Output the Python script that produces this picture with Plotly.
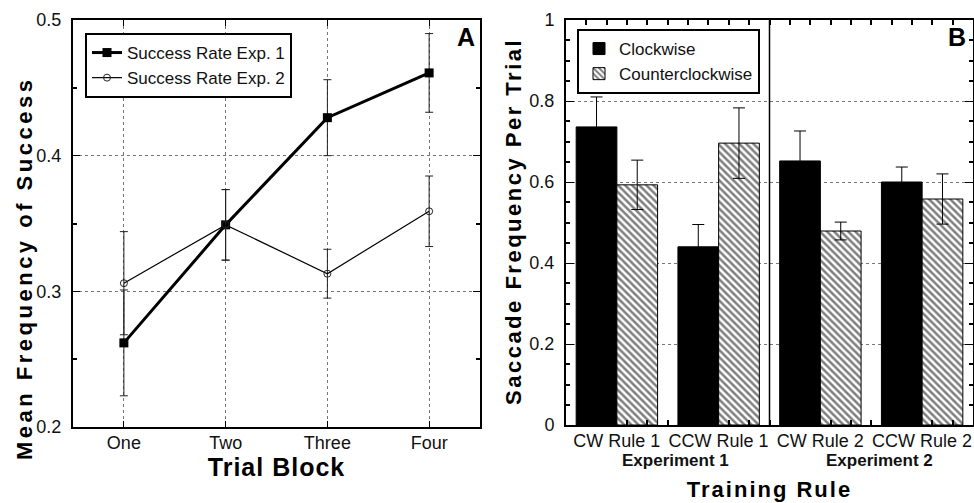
import plotly.graph_objects as go

# ---------------- Data ----------------
blocks = ["One", "Two", "Three", "Four"]
exp1_rate = [0.262, 0.349, 0.428, 0.461]
exp1_err = [0.039, 0.026, 0.028, 0.029]
exp2_rate = [0.306, 0.349, 0.313, 0.359]
exp2_err = [0.038, 0.026, 0.018, 0.026]

rules = ["CW Rule 1", "CCW Rule 1", "CW Rule 2", "CCW Rule 2"]
clockwise = [0.736, 0.440, 0.652, 0.600]
clockwise_err = [0.074, 0.055, 0.074, 0.037]
counterclockwise = [0.593, 0.696, 0.479, 0.558]
counterclockwise_err = [0.061, 0.087, 0.022, 0.062]
experiments = ["Experiment 1", "Experiment 2"]

FONT = "Liberation Sans, Arial, Helvetica, sans-serif"
W, H = 974, 503

def px_x(p):
    return p / W

def px_y(p):
    return 1 - p / H

xa = list(range(len(blocks)))
xb = list(range(len(rules)))
# minor tick positions along the rule axis (every 0.2, aligned on group boundaries)
xb_minor = [round(-0.3 + 0.2 * k, 2) for k in range(19)]

fig = go.Figure()

# Panel A
fig.add_trace(go.Scatter(
    x=xa, y=exp1_rate, mode="lines+markers", name="Success Rate Exp. 1",
    line=dict(color="black", width=3),
    marker=dict(symbol="square", size=9, color="black"),
    error_y=dict(type="data", array=exp1_err, color="#222", thickness=1, width=4),
    xaxis="x", yaxis="y", legend="legend"))
fig.add_trace(go.Scatter(
    x=xa, y=exp2_rate, mode="lines+markers", name="Success Rate Exp. 2",
    line=dict(color="black", width=1.2),
    marker=dict(symbol="circle-open", size=7, color="#222", line=dict(width=1)),
    error_y=dict(type="data", array=exp2_err, color="#222", thickness=1, width=4),
    xaxis="x", yaxis="y", legend="legend"))

# Panel B
fig.add_trace(go.Bar(
    x=xb, y=clockwise, name="Clockwise",
    marker=dict(color="black", line=dict(color="black", width=1)),
    error_y=dict(type="data", array=clockwise_err, color="black", thickness=1, width=6),
    xaxis="x2", yaxis="y2", legend="legend2"))
fig.add_trace(go.Bar(
    x=xb, y=counterclockwise, name="Counterclockwise",
    marker=dict(color="white", line=dict(color="black", width=1),
                pattern=dict(shape="\\", fgcolor="black", bgcolor="white", size=5, solidity=0.5)),
    error_y=dict(type="data", array=counterclockwise_err, color="black", thickness=1, width=6),
    xaxis="x2", yaxis="y2", legend="legend2"))

axis_common = dict(showline=True, linecolor="black", linewidth=2, mirror="allticks",
                   tickcolor="black", zeroline=False, automargin=False,
                   tickfont=dict(family=FONT, size=18, color="#111"))

minor_style = dict(ticks="inside", tickcolor="black", tickwidth=1.5, showgrid=False)

fig.update_layout(
    width=W, height=H,
    margin=dict(l=0, r=0, t=0, b=0),
    paper_bgcolor="white", plot_bgcolor="white",
    font=dict(family=FONT, color="black"),
    barmode="group", bargap=0.2, bargroupgap=0,
    xaxis=dict(domain=[px_x(73), px_x(480)], anchor="y", range=[-0.5, 3.5],
               tickmode="array", tickvals=xa, ticktext=blocks, ticks="inside", ticklen=6,
               showgrid=True, gridcolor="#777", griddash="dot", gridwidth=1,
               ticklabelstandoff=-2,
               title=dict(text="<b><span style='letter-spacing:1px'>Trial Block</span></b>",
                          font=dict(size=25, family=FONT), standoff=6),
               **axis_common),
    yaxis=dict(domain=[px_y(427), px_y(20)], anchor="x", range=[0.2, 0.5],
               tickmode="linear", tick0=0.2, dtick=0.1, tickformat=".1f", ticks="inside", ticklen=7,
               minor=dict(tickmode="linear", tick0=0.2, dtick=0.05, ticklen=4, **minor_style),
               showgrid=True, gridcolor="#777", griddash="dot", gridwidth=1,
               ticklabelstandoff=6,
               **axis_common),
    xaxis2=dict(domain=[px_x(566), px_x(973)], anchor="y2", range=[-0.5, 3.5],
                tickmode="array", tickvals=xb, ticktext=rules, ticks="inside", ticklen=0,
                ticklabelstandoff=-2,
                minor=dict(tickmode="array", tickvals=xb_minor, ticklen=5, **minor_style),
                showgrid=False,
                title=dict(text="<b><span style='letter-spacing:2px'>Training Rule</span></b>",
                           font=dict(size=22, family=FONT), standoff=32),
                **axis_common),
    yaxis2=dict(domain=[px_y(425), px_y(20)], anchor="x2", range=[0, 1],
                tickmode="linear", tick0=0, dtick=0.2, ticks="inside", ticklen=8,
                minor=dict(tickmode="linear", tick0=0, dtick=0.05, ticklen=4, **minor_style),
                showgrid=True, gridcolor="#777", griddash="dot", gridwidth=1,
                ticklabelstandoff=6,
                **axis_common),
    legend=dict(x=px_x(85), y=px_y(33), xanchor="left", yanchor="top",
                bgcolor="white", bordercolor="black", borderwidth=2,
                font=dict(family=FONT, size=17, color="#111"), tracegroupgap=0,
                itemwidth=30),
    legend2=dict(x=px_x(577), y=px_y(29), xanchor="left", yanchor="top",
                 bgcolor="white", bordercolor="black", borderwidth=2,
                 font=dict(family=FONT, size=17, color="#111"), tracegroupgap=0,
                 itemwidth=30),
    showlegend=True,
)

# y-axis titles
fig.add_annotation(x=px_x(24), y=px_y(269), xref="paper", yref="paper",
                   xanchor="center", yanchor="middle", textangle=-90, showarrow=False,
                   text="<b><span style='letter-spacing:3.5px'>Mean Frequency of Success</span></b>",
                   font=dict(family=FONT, size=22, color="black"))
fig.add_annotation(x=px_x(513), y=px_y(222), xref="paper", yref="paper",
                   xanchor="center", yanchor="middle", textangle=-90, showarrow=False,
                   text="<b><span style='letter-spacing:2.5px'>Saccade Frequency Per Trial</span></b>",
                   font=dict(family=FONT, size=22, color="black"))

# divider between experiments (x=1.5 boundary between the two experiment groups)
fig.add_shape(type="line", xref="x2", yref="y2 domain", x0=1.5, x1=1.5, y0=0, y1=1,
              line=dict(color="black", width=1.5))

# experiment group labels
for i, lab in enumerate(experiments):
    fig.add_annotation(x=2 * i + 0.5, xref="x2", y=px_y(460), yref="paper", xshift=8,
                       xanchor="center", yanchor="middle",
                       text=f"<b>{lab}</b>", showarrow=False,
                       font=dict(family=FONT, size=17, color="#111"))

# panel letters
fig.add_annotation(x=px_x(466), y=px_y(37), xref="paper", yref="paper", text="<b>A</b>",
                   xanchor="center", yanchor="middle",
                   showarrow=False, font=dict(family=FONT, size=25, color="black"))
fig.add_annotation(x=px_x(957), y=px_y(37), xref="paper", yref="paper", text="<b>B</b>",
                   xanchor="center", yanchor="middle",
                   showarrow=False, font=dict(family=FONT, size=25, color="black"))

fig.write_html("out.html")
